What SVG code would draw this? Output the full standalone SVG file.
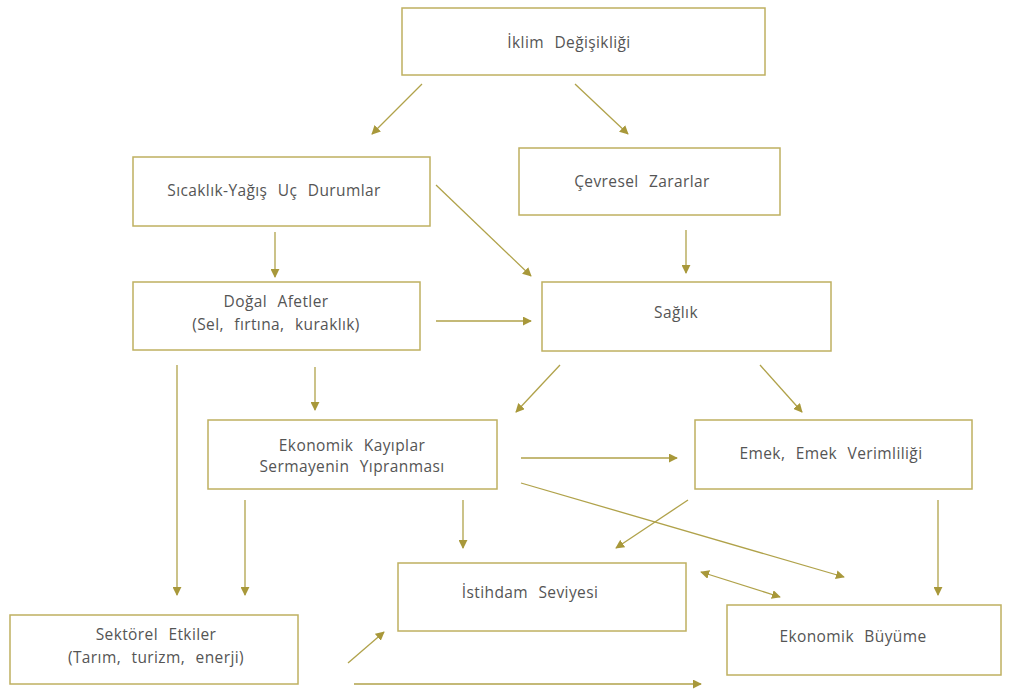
<svg xmlns="http://www.w3.org/2000/svg" width="1011" height="691" viewBox="0 0 1011 691">
<defs>
<marker id="ah" viewBox="0 0 10 10" refX="9" refY="5" markerWidth="9" markerHeight="9" markerUnits="userSpaceOnUse" orient="auto-start-reverse">
<path d="M0,0 L10,5 L0,10 z" fill="#a8983a"/>
</marker>
<style>
.box{fill:#fff;stroke:#bfb060;stroke-width:1.5}
.t{font-family:"Open Sans","Noto Sans",sans-serif;font-size:15.5px;fill:#555;text-anchor:middle;word-spacing:6px;letter-spacing:0.4px}
.c line{stroke:#b0a24a;stroke-width:1.3;marker-end:url(#ah)}
</style>
</defs>
<rect width="1011" height="691" fill="#fff"/>
<g id="n1"><rect class="box" x="402" y="8" width="363" height="67"/><text class="t" x="569" y="48">İklim Değişikliği</text></g>
<g id="n2"><rect class="box" x="133" y="157" width="297" height="69"/><text class="t" x="274" y="196">Sıcaklık-Yağış Uç Durumlar</text></g>
<g id="n3"><rect class="box" x="519" y="148" width="261" height="67"/><text class="t" x="642" y="187">Çevresel Zararlar</text></g>
<g id="n4"><rect class="box" x="133" y="282" width="287" height="68"/><text class="t" x="276" y="307">Doğal Afetler</text><text class="t" x="276" y="330">(Sel, fırtına, kuraklık)</text></g>
<g id="n5"><rect class="box" x="542" y="282" width="289" height="69"/><text class="t" x="676" y="318">Sağlık</text></g>
<g id="n6"><rect class="box" x="208" y="420" width="289" height="69"/><text class="t" x="352" y="451">Ekonomik Kayıplar</text><text class="t" x="352" y="472">Sermayenin Yıpranması</text></g>
<g id="n7"><rect class="box" x="695" y="420" width="277" height="69"/><text class="t" x="831" y="459">Emek, Emek Verimliliği</text></g>
<g id="n8"><rect class="box" x="398" y="563" width="288" height="68"/><text class="t" x="530" y="598">İstihdam Seviyesi</text></g>
<g id="n9"><rect class="box" x="727" y="605" width="274" height="70"/><text class="t" x="853" y="642">Ekonomik Büyüme</text></g>
<g id="n10"><rect class="box" x="10" y="615" width="288" height="69"/><text class="t" x="156" y="640">Sektörel Etkiler</text><text class="t" x="156" y="663">(Tarım, turizm, enerji)</text></g>
<g id="connectors" class="c">
<line x1="422" y1="84" x2="372" y2="134"/>
<line x1="575" y1="84" x2="628" y2="134"/>
<line x1="275" y1="232" x2="275" y2="277"/>
<line x1="436" y1="185" x2="531" y2="276"/>
<line x1="686" y1="230" x2="686" y2="273"/>
<line x1="436" y1="321" x2="531" y2="321"/>
<line x1="560" y1="365" x2="516" y2="412"/>
<line x1="760" y1="365" x2="802" y2="412"/>
<line x1="315" y1="367" x2="315" y2="410"/>
<line x1="177" y1="365" x2="177" y2="595"/>
<line x1="245" y1="500" x2="245" y2="595"/>
<line x1="521" y1="458" x2="677" y2="458"/>
<line x1="521" y1="483" x2="844" y2="577"/>
<line x1="688" y1="500" x2="616" y2="548"/>
<line x1="463" y1="500" x2="463" y2="548"/>
<line x1="938" y1="500" x2="938" y2="595"/>
<line x1="701" y1="572" x2="780" y2="597" marker-start="url(#ah)"/>
<line x1="348" y1="663" x2="384" y2="632"/>
<line x1="354" y1="684" x2="701" y2="684"/>
</g>
</svg>
